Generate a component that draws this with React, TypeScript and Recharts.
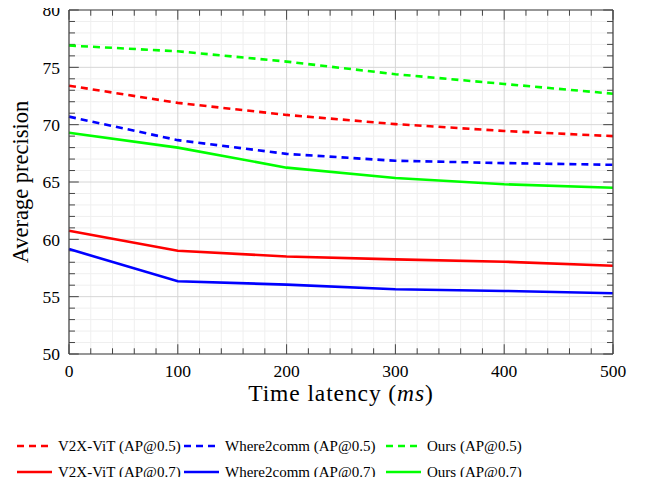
import { LineChart, Line, XAxis, YAxis, ReferenceLine, Label } from 'recharts';

const latency = [0, 100, 200, 300, 400, 500];
const v2xVit05 = [73.4, 71.9, 70.85, 70.05, 69.45, 69.0];
const where2comm05 = [70.7, 68.65, 67.45, 66.85, 66.65, 66.5];
const ours05 = [76.9, 76.4, 75.5, 74.4, 73.55, 72.7];
const v2xVit07 = [60.75, 59.0, 58.5, 58.25, 58.05, 57.7];
const where2comm07 = [59.15, 56.35, 56.05, 55.65, 55.5, 55.3];
const ours07 = [69.3, 68.0, 66.25, 65.35, 64.8, 64.5];

const xMajor = [0, 100, 200, 300, 400, 500];
const xMinor = [20, 40, 60, 80, 120, 140, 160, 180, 220, 240, 260, 280, 320, 340, 360, 380, 420, 440, 460, 480];
const yMajor = [50, 55, 60, 65, 70, 75, 80];
const yMinor = [51, 52, 53, 54, 56, 57, 58, 59, 61, 62, 63, 64, 66, 67, 68, 69, 71, 72, 73, 74, 76, 77, 78, 79];

const series = [
  { key: 'v2x05', name: 'V2X-ViT (AP@0.5)', color: '#ff0000', dashed: true, values: v2xVit05 },
  { key: 'w2c05', name: 'Where2comm (AP@0.5)', color: '#0000ff', dashed: true, values: where2comm05 },
  { key: 'ours05', name: 'Ours (AP@0.5)', color: '#00ff00', dashed: true, values: ours05 },
  { key: 'v2x07', name: 'V2X-ViT (AP@0.7)', color: '#ff0000', dashed: false, values: v2xVit07 },
  { key: 'w2c07', name: 'Where2comm (AP@0.7)', color: '#0000ff', dashed: false, values: where2comm07 },
  { key: 'ours07', name: 'Ours (AP@0.7)', color: '#00ff00', dashed: false, values: ours07 },
];

const data = latency.map((t, i) => {
  const row: any = { t };
  series.forEach((s) => { row[s.key] = s.values[i]; });
  return row;
});

const FONT = '"Liberation Serif", serif';
const FRAME = '#444';
const X_MIN = 0, X_MAX = 500, Y_MIN = 50, Y_MAX = 80;
// inward tick lengths, in data units (major / minor)
const TX_MAJ = 0.85, TX_MIN = 0.5, TY_MAJ = 9, TY_MIN = 5.5;

const legendCols = [17, 184, 386];
const legendRows = [446, 472];

function LegendItem({ s, left, top }: { s: any; left: number; top: number }) {
  return (
    <div style={{ position: 'absolute', left, top: top - 9, display: 'flex', alignItems: 'center', height: 18 }}>
      <svg width={35} height={6} style={{ marginRight: 6, flex: 'none' }}>
        <line x1={0} y1={3} x2={35} y2={3} stroke={s.color} strokeWidth={2.6} strokeDasharray={s.dashed ? '7 5' : undefined} />
      </svg>
      <span style={{ fontFamily: FONT, fontSize: 15, color: '#000', whiteSpace: 'nowrap' }}>{s.name}</span>
    </div>
  );
}

export default function App() {
  return (
    <div style={{ position: 'relative', width: 659, height: 485, margin: -8, fontFamily: FONT }}>
      <LineChart width={659} height={420} data={data} margin={{ top: 10, right: 46, bottom: 10, left: 0 }}>
        <XAxis dataKey="t" type="number" domain={[X_MIN, X_MAX]} ticks={xMajor} interval={0}
          height={56} tickLine={false} tickSize={0} tickMargin={11} axisLine={false}
          tick={{ fill: '#000', fontSize: 17.5, fontFamily: FONT }}>
          <Label position="bottom" content={({ viewBox }: any) => (
            <text x={viewBox.x + viewBox.width / 2} y={401} textAnchor="middle" fontFamily={FONT} fontSize={23.5}
              letterSpacing={0.9} fill="#000">
              Time latency (<tspan fontStyle="italic">ms</tspan>)
            </text>
          )} />
        </XAxis>
        <YAxis type="number" domain={[Y_MIN, Y_MAX]} ticks={yMajor} interval={0}
          width={69} tickLine={false} tickSize={0} tickMargin={9} axisLine={false}
          tick={{ fill: '#000', fontSize: 17.5, fontFamily: FONT }}>
          <Label position="left" content={({ viewBox }: any) => {
            const cy = viewBox.y + viewBox.height / 2;
            return (
              <text x={20} y={cy} transform={`rotate(-90, 20, ${cy})`} textAnchor="middle" dominantBaseline="central"
                fontFamily={FONT} fontSize={22.5} fill="#000">
                Average precision
              </text>
            );
          }} />
        </YAxis>

        {xMinor.map((v) => <ReferenceLine key={`gxm${v}`} x={v} stroke="#efefef" strokeWidth={1} />)}
        {yMinor.map((v) => <ReferenceLine key={`gym${v}`} y={v} stroke="#efefef" strokeWidth={1} />)}
        {xMajor.map((v) => <ReferenceLine key={`gx${v}`} x={v} stroke="#d6d6d6" strokeWidth={1} />)}
        {yMajor.map((v) => <ReferenceLine key={`gy${v}`} y={v} stroke="#d6d6d6" strokeWidth={1} />)}

        {xMinor.map((v) => <ReferenceLine key={`tbm${v}`} segment={[{ x: v, y: Y_MIN }, { x: v, y: Y_MIN + TX_MIN }]} stroke={FRAME} />)}
        {xMinor.map((v) => <ReferenceLine key={`ttm${v}`} segment={[{ x: v, y: Y_MAX }, { x: v, y: Y_MAX - TX_MIN }]} stroke={FRAME} />)}
        {xMajor.map((v) => <ReferenceLine key={`tb${v}`} segment={[{ x: v, y: Y_MIN }, { x: v, y: Y_MIN + TX_MAJ }]} stroke={FRAME} />)}
        {xMajor.map((v) => <ReferenceLine key={`tt${v}`} segment={[{ x: v, y: Y_MAX }, { x: v, y: Y_MAX - TX_MAJ }]} stroke={FRAME} />)}
        {yMinor.map((v) => <ReferenceLine key={`tlm${v}`} segment={[{ x: X_MIN, y: v }, { x: X_MIN + TY_MIN, y: v }]} stroke={FRAME} />)}
        {yMinor.map((v) => <ReferenceLine key={`trm${v}`} segment={[{ x: X_MAX, y: v }, { x: X_MAX - TY_MIN, y: v }]} stroke={FRAME} />)}
        {yMajor.map((v) => <ReferenceLine key={`tl${v}`} segment={[{ x: X_MIN, y: v }, { x: X_MIN + TY_MAJ, y: v }]} stroke={FRAME} />)}
        {yMajor.map((v) => <ReferenceLine key={`tr${v}`} segment={[{ x: X_MAX, y: v }, { x: X_MAX - TY_MAJ, y: v }]} stroke={FRAME} />)}

        {series.map((s) => (
          <Line key={s.key} type="linear" dataKey={s.key} name={s.name}
            stroke={s.color} strokeWidth={2.6} strokeDasharray={s.dashed ? '7 5' : undefined}
            dot={false} activeDot={false} isAnimationActive={false} />
        ))}

        <ReferenceLine x={X_MIN} stroke={FRAME} strokeWidth={1.2} />
        <ReferenceLine x={X_MAX} stroke={FRAME} strokeWidth={1.2} />
        <ReferenceLine y={Y_MIN} stroke={FRAME} strokeWidth={1.2} />
        <ReferenceLine y={Y_MAX} stroke={FRAME} strokeWidth={1.2} />
      </LineChart>
      {series.map((s, i) => (
        <LegendItem key={s.key} s={s} left={legendCols[i % 3]} top={legendRows[Math.floor(i / 3)]} />
      ))}
    </div>
  );
}
